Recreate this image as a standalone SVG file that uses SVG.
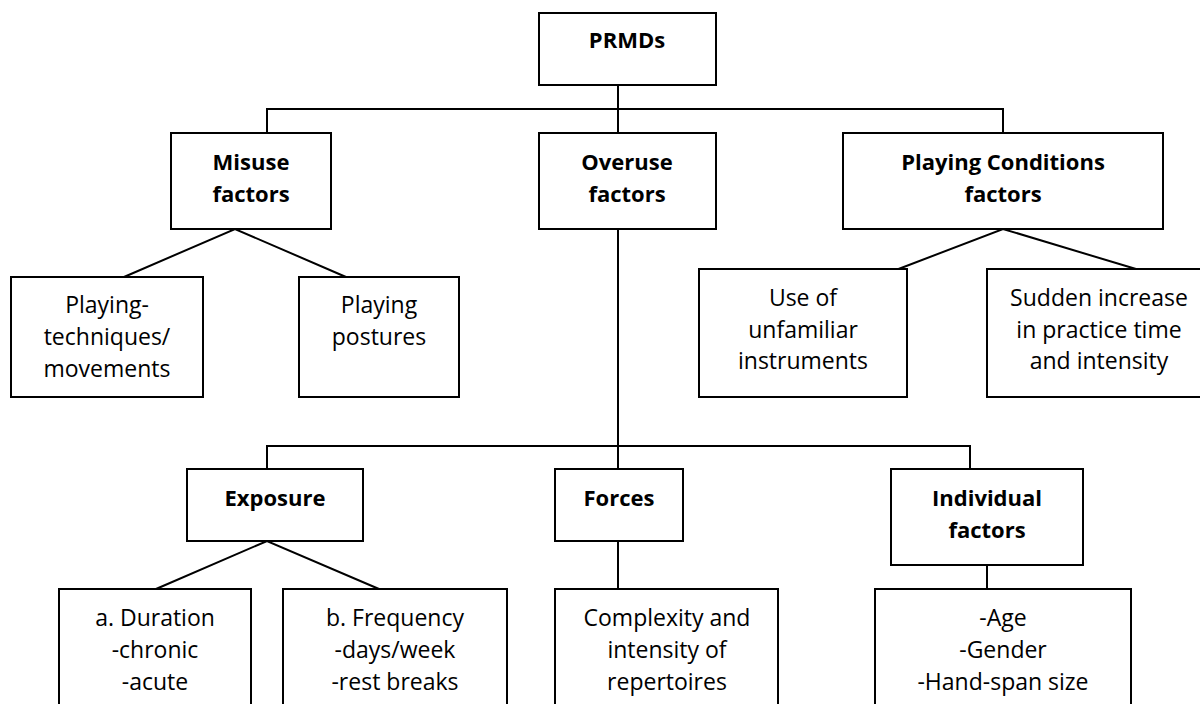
<svg xmlns="http://www.w3.org/2000/svg" width="1200" height="704" viewBox="0 0 1200 704">
<style>
.box{fill:#fff;stroke:#000;stroke-width:2}
.ln{fill:none;stroke:#000;stroke-width:2}
text{font-family:"Open Sans","Liberation Sans",sans-serif;font-size:23px;fill:#000;text-anchor:middle}
.b{font-weight:bold;font-size:22px}
</style>
<rect width="1200" height="704" fill="#fff"/>
<g id="connectors">
<path class="ln" d="M618 85V468M267 133V109H1003V133"/>
<path class="ln" d="M124 277L235 229L346 277"/>
<path class="ln" d="M898.5 269L1003 229L1136 269"/>
<path class="ln" d="M267 469V446H970V469"/>
<path class="ln" d="M156 589L267 541L379 589"/>
<path class="ln" d="M618 541V589"/>
<path class="ln" d="M987 565V589"/>
</g>
<g id="prmds"><rect class="box" x="539" y="13" width="177" height="72"/><text class="b" x="627" y="48">PRMDs</text></g>
<g id="misuse"><rect class="box" x="171" y="133" width="160" height="96"/><text class="b" x="251" y="170">Misuse</text><text class="b" x="251" y="202">factors</text></g>
<g id="overuse"><rect class="box" x="539" y="133" width="177" height="96"/><text class="b" x="627" y="170">Overuse</text><text class="b" x="627" y="202">factors</text></g>
<g id="playing-conditions"><rect class="box" x="843" y="133" width="320" height="96"/><text class="b" x="1003" y="170">Playing Conditions</text><text class="b" x="1003" y="202">factors</text></g>
<g id="techniques"><rect class="box" x="11" y="277" width="192" height="120"/><text x="107" y="313">Playing-</text><text x="107" y="345">techniques/</text><text x="107" y="377">movements</text></g>
<g id="postures"><rect class="box" x="299" y="277" width="160" height="120"/><text x="379" y="313">Playing</text><text x="379" y="345">postures</text></g>
<g id="unfamiliar"><rect class="box" x="699" y="269" width="208" height="128"/><text x="803" y="306">Use of</text><text x="803" y="338">unfamiliar</text><text x="803" y="369">instruments</text></g>
<g id="sudden"><rect class="box" x="987" y="269" width="224" height="128"/><text x="1099" y="306">Sudden increase</text><text x="1099" y="338">in practice time</text><text x="1099" y="369">and intensity</text></g>
<g id="exposure"><rect class="box" x="187" y="469" width="176" height="72"/><text class="b" x="275" y="506">Exposure</text></g>
<g id="forces"><rect class="box" x="555" y="469" width="128" height="72"/><text class="b" x="619" y="506">Forces</text></g>
<g id="individual"><rect class="box" x="891" y="469" width="192" height="96"/><text class="b" x="987" y="506">Individual</text><text class="b" x="987" y="538">factors</text></g>
<g id="duration"><rect class="box" x="59" y="589" width="192" height="130"/><text x="155" y="626">a. Duration</text><text x="155" y="658">-chronic</text><text x="155" y="690">-acute</text></g>
<g id="frequency"><rect class="box" x="283" y="589" width="224" height="130"/><text x="395" y="626">b. Frequency</text><text x="395" y="658">-days/week</text><text x="395" y="690">-rest breaks</text></g>
<g id="complexity"><rect class="box" x="555" y="589" width="223" height="130"/><text x="667" y="626">Complexity and</text><text x="667" y="658">intensity of</text><text x="667" y="690">repertoires</text></g>
<g id="individual-list"><rect class="box" x="875" y="589" width="256" height="130"/><text x="1003" y="626">-Age</text><text x="1003" y="658">-Gender</text><text x="1003" y="690">-Hand-span size</text></g>
</svg>
